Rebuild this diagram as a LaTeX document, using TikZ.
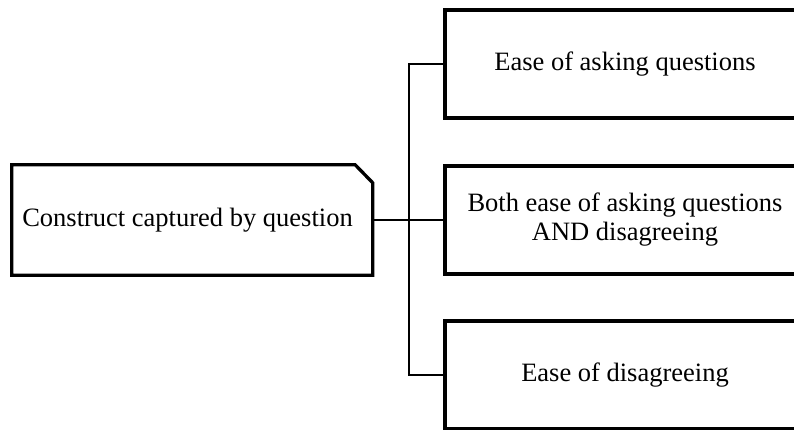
\documentclass[tikz,border=0pt]{standalone}
\usepackage{fontspec}
\setmainfont{Liberation Serif}
\begin{document}
\begin{tikzpicture}[x=1pt,y=-1pt,
  frame/.style={line width=3.3pt},
  link/.style={line width=2pt},
  txt/.style={font=\fontsize{26.5}{29}\selectfont, align=center, inner sep=0pt},
  branch/.style={draw, frame, txt, minimum width=360pt, minimum height=108pt}]
\useasboundingbox (0,0) rectangle (794,429);
\clip (0,0) rectangle (794,429);

% root box with a chamfered upper right corner
\node[minimum width=360.5pt, minimum height=110pt, inner sep=0pt] (root) at (192.25,220) {};
\draw[frame] (root.south west) -- (root.north west)
  -- ([xshift=-17.5pt]root.north east) -- ([yshift=-18pt]root.north east)
  -- (root.south east) -- cycle;
\node[txt] (rootlabel) at (187.5,220) {Construct captured by question};

% the three branches (they run past the right edge)
\node[branch] (b1) at (625,64)  {Ease of asking questions};
\node[branch] (b2) at (625,220) {Both ease of asking questions\\AND disagreeing};
\node[branch] (b3) at (625,375) {Ease of disagreeing};

% tree connectors
\coordinate (j) at (409,220);
\draw[link] (root.east) -- (b2.west);
\draw[link] (b1.west) -| (j) |- (b3.west);
\end{tikzpicture}
\end{document}
